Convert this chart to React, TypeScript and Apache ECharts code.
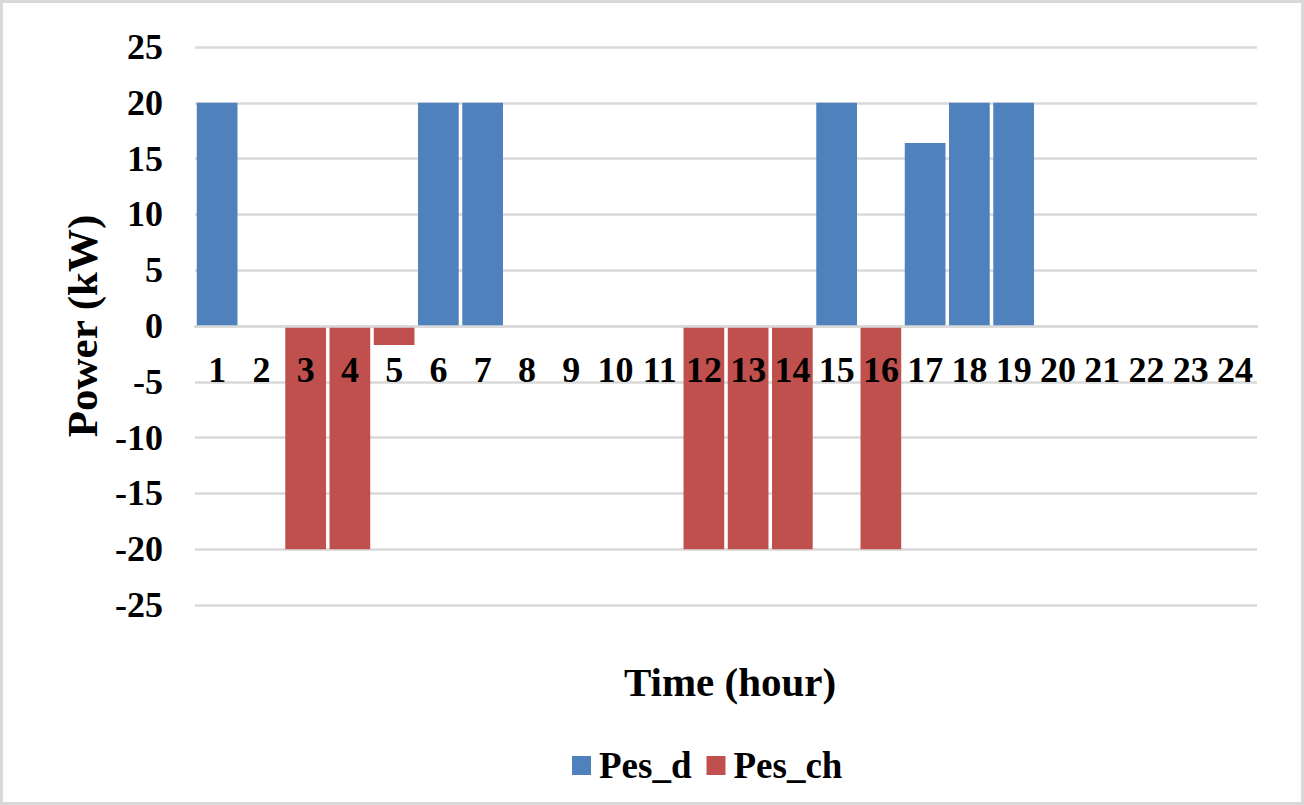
import React, { useEffect, useRef } from "react";
import * as echarts from "echarts";

const hours = ["1","2","3","4","5","6","7","8","9","10","11","12","13","14","15","16","17","18","19","20","21","22","23","24"];
const pesD = [20, 0, 0, 0, 0, 20, 20, 0, 0, 0, 0, 0, 0, 0, 20, 0, 16.4, 20, 20, 0, 0, 0, 0, 0];
const pesCh = [0, 0, -20, -20, -1.7, 0, 0, 0, 0, 0, 0, -20, -20, -20, 0, -20, 0, 0, 0, 0, 0, 0, 0, 0];

const FONT = "'Liberation Serif', 'Times New Roman', serif";

const GRID_TOP = 47;
const GRID_BOTTOM = 200;
const CHART_H = 805;
// zero lies halfway between -25 and 25
const ZERO_OFFSET = -((CHART_H - GRID_TOP - GRID_BOTTOM) / 2);

export default function App() {
  const ref = useRef<HTMLDivElement>(null);
  useEffect(() => {
    if (!ref.current) return;
    const chart = echarts.init(ref.current, null, { renderer: "svg" });
    chart.setOption({
      animation: false,
      backgroundColor: "#ffffff",
      textStyle: { fontFamily: FONT },
      grid: { left: 195, right: 47, top: GRID_TOP, bottom: GRID_BOTTOM, containLabel: false },
      legend: {
        data: ["Pes_d", "Pes_ch"],
        left: 567,
        top: 742,
        icon: "rect",
        itemWidth: 19,
        itemHeight: 19,
        itemGap: 15,
        textStyle: { fontFamily: FONT, fontSize: 37, fontWeight: "bold", color: "#000", padding: [0, 0, 0, 3] },
      },
      xAxis: {
        type: "category",
        data: hours,
        position: "bottom",
        offset: ZERO_OFFSET,
        z: 10,
        axisLine: { onZero: false, lineStyle: { color: "#d9d9d9", width: 2.5 } },
        axisTick: { show: false },
        axisLabel: { margin: 26, fontFamily: FONT, fontSize: 36, fontWeight: "bold", color: "#000", interval: 0 },
      },
      yAxis: {
        type: "value",
        min: -25,
        max: 25,
        interval: 5,
        name: "Power (kW)",
        nameLocation: "middle",
        nameGap: 88,
        nameTextStyle: { fontFamily: FONT, fontSize: 43, fontWeight: "bold", color: "#000" },
        axisLine: { show: false },
        axisTick: { show: false },
        splitLine: { lineStyle: { color: "#d9d9d9", width: 2.5 } },
        axisLabel: { margin: 32, fontFamily: FONT, fontSize: 36, fontWeight: "bold", color: "#000" },
      },
      graphic: [
        {
          type: "rect",
          shape: { x: 1.5, y: 1.5, width: 1301, height: 802 },
          style: { fill: "none", stroke: "#d9d9d9", lineWidth: 3 },
          silent: true,
        },
        {
          type: "text",
          x: 730,
          y: 682,
          style: {
            text: "Time (hour)",
            fontFamily: FONT,
            fontSize: 41,
            fontWeight: "bold",
            fill: "#000",
            align: "center",
            verticalAlign: "middle",
          },
        },
      ],
      series: [
        {
          name: "Pes_d",
          type: "bar",
          stack: "p",
          data: pesD,
          barCategoryGap: "8%",
          itemStyle: { color: "#4f81bd" },
        },
        {
          name: "Pes_ch",
          type: "bar",
          stack: "p",
          data: pesCh,
          barCategoryGap: "8%",
          itemStyle: { color: "#c0504d" },
        },
      ],
    });
    return () => chart.dispose();
  }, []);
  return (
    <div
      ref={ref}
      style={{ position: "fixed", left: 0, top: 0, width: 1304, height: 805 }}
    />
  );
}
